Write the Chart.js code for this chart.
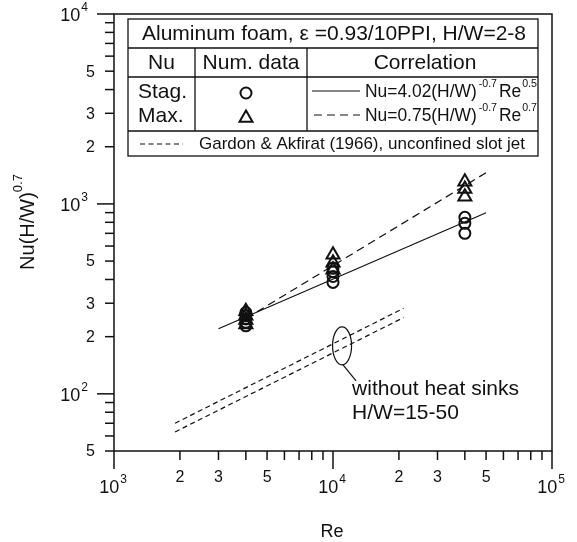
<!DOCTYPE html>
<html>
<head>
<meta charset="utf-8">
<script src="https://cdn.jsdelivr.net/npm/chart.js@4.4.1/dist/chart.umd.min.js"></script>
<style>
  body { margin: 0; background: #fff; }
</style>
</head>
<body>
<canvas id="nuChart" width="577" height="542"></canvas>
<script>
// numerical data, stagnation (circles) and maximum (triangles)
const stagRe = [4000, 4000, 4000, 4000, 4000, 10000, 10000, 10000, 10000, 40000, 40000, 40000];
const stagNu = [228, 238, 248, 258, 268, 386, 415, 440, 460, 700, 790, 850];
const maxRe = [4000, 4000, 4000, 4000, 10000, 10000, 10000, 40000, 40000, 40000];
const maxNu = [232, 245, 258, 272, 450, 490, 540, 1090, 1200, 1310];

// correlation lines (end points)
const stagFitRe = [3000, 50000];
const stagFitNu = [220, 899];
const maxFitRe = [4000, 50000];
const maxFitNu = [249, 1460];

// Gardon & Akfirat (1966), H/W=15-50
const gardonRe = [1900, 21000];
const gardonHighNu = [70, 282];
const gardonLowNu = [63, 252];

// axis ticks
const xDecades = [1000, 10000, 100000];
const xDecadeExp = ['3', '4', '5'];
const xMinor = [2000, 3000, 4000, 5000, 6000, 7000, 8000, 9000,
                20000, 30000, 40000, 50000, 60000, 70000, 80000, 90000];
const xMinorLabeled = [2000, 3000, 5000, 20000, 30000, 50000];
const xMinorText = ['2', '3', '5', '2', '3', '5'];

const yDecades = [100, 1000, 10000];
const yDecadeExp = ['2', '3', '4'];
const yMinor = [50, 60, 70, 80, 90, 200, 300, 400, 500, 600, 700, 800, 900,
                2000, 3000, 4000, 5000, 6000, 7000, 8000, 9000];
const yMinorLabeled = [50, 200, 300, 500, 2000, 3000, 5000];
const yMinorText = ['5', '2', '3', '5', '2', '3', '5'];

// note on the plot
const noteAt = [11000, 179];
const noteLines = ['without heat sinks', 'H/W=15-50'];

const FONT = '"Liberation Sans", Arial, sans-serif';
const INK = '#111';

function pts(xs, ys) {
    return xs.map((x, i) => ({ x: x, y: ys[i] }));
}

// text with superscripts, parts = [[text, isSup, gapAfter], ...]
function richWidth(ctx, parts, size, supSize) {
    let w = 0;
    parts.forEach(p => {
        ctx.font = (p[1] ? supSize : size) + 'px ' + FONT;
        w += ctx.measureText(p[0]).width + (p[2] || 0);
    });
    return w;
}
function drawRich(ctx, parts, x, y, size, supSize, rise) {
    ctx.textBaseline = 'middle';
    ctx.textAlign = 'left';
    parts.forEach(p => {
        ctx.font = (p[1] ? supSize : size) + 'px ' + FONT;
        ctx.fillText(p[0], x, p[1] ? y - rise : y);
        x += ctx.measureText(p[0]).width + (p[2] || 0);
    });
}
// same, squeezed sideways to fit a given width
function drawRichFit(ctx, parts, x, y, size, supSize, rise, maxW) {
    const w = richWidth(ctx, parts, size, supSize);
    const k = Math.min(1, maxW / w);
    ctx.save();
    ctx.translate(x, y);
    ctx.scale(k, 1);
    drawRich(ctx, parts, 0, 0, size, supSize, rise);
    ctx.restore();
}

function drawCircle(ctx, x, y) {
    ctx.beginPath();
    ctx.arc(x, y, 5.5, 0, Math.PI * 2);
    ctx.stroke();
}
function drawTriangle(ctx, x, y) {
    const r = 7.5;
    ctx.beginPath();
    ctx.moveTo(x, y - r);
    ctx.lineTo(x + r * 0.866, y + r * 0.5);
    ctx.lineTo(x - r * 0.866, y + r * 0.5);
    ctx.closePath();
    ctx.stroke();
}

const framePlugin = {
    id: 'framePlugin',
    afterDraw(chart) {
        const ctx = chart.ctx;
        const area = chart.chartArea;
        const xs = chart.scales.x;
        const ys = chart.scales.y;
        ctx.save();
        ctx.strokeStyle = INK;
        ctx.fillStyle = INK;

        // frame
        ctx.lineWidth = 1.5;
        ctx.strokeRect(area.left, area.top, area.right - area.left, area.bottom - area.top);

        // x ticks
        xDecades.forEach((v, i) => {
            const px = xs.getPixelForValue(v);
            ctx.beginPath();
            ctx.moveTo(px, area.bottom);
            ctx.lineTo(px, area.bottom + 18);
            ctx.stroke();
            const parts = [['10', false, 1], [xDecadeExp[i], true]];
            const w = richWidth(ctx, parts, 18, 12);
            drawRich(ctx, parts, px - w / 2 - 1, area.bottom + 37, 18, 12, 8);
        });
        xMinor.forEach(v => {
            const px = xs.getPixelForValue(v);
            ctx.beginPath();
            ctx.moveTo(px, area.bottom);
            ctx.lineTo(px, area.bottom + 9);
            ctx.stroke();
        });
        ctx.font = '16px ' + FONT;
        ctx.textAlign = 'center';
        ctx.textBaseline = 'middle';
        xMinorLabeled.forEach((v, i) => {
            ctx.fillText(xMinorText[i], xs.getPixelForValue(v), area.bottom + 27);
        });

        // y ticks
        yDecades.forEach((v, i) => {
            const py = ys.getPixelForValue(v);
            ctx.beginPath();
            ctx.moveTo(area.left, py);
            ctx.lineTo(area.left - 17, py);
            ctx.stroke();
            const parts = [['10', false, 1], [yDecadeExp[i], true]];
            const w = richWidth(ctx, parts, 18, 12);
            drawRich(ctx, parts, area.left - 26 - w, py + 2, 18, 12, 8);
        });
        yMinor.forEach(v => {
            const py = ys.getPixelForValue(v);
            ctx.beginPath();
            ctx.moveTo(area.left, py);
            ctx.lineTo(area.left - 9, py);
            ctx.stroke();
        });
        ctx.font = '16px ' + FONT;
        ctx.textAlign = 'right';
        ctx.textBaseline = 'middle';
        yMinorLabeled.forEach((v, i) => {
            ctx.fillText(yMinorText[i], area.left - 19, ys.getPixelForValue(v) + 1);
        });

        // axis titles
        ctx.font = '18px ' + FONT;
        ctx.textAlign = 'center';
        ctx.fillText('Re', (area.left + area.right) / 2 - 1, 532);
        ctx.save();
        ctx.translate(28, 222);
        ctx.rotate(-Math.PI / 2);
        const tParts = [['Nu(H/W)', false], ['0.7', true]];
        const tw = richWidth(ctx, tParts, 20, 13);
        drawRich(ctx, tParts, -tw / 2, 0, 20, 13, 10);
        ctx.restore();

        // legend table
        const L = 128, R = 538, T = 19, B = 156;
        const r1 = 48, r2 = 77, r3 = 131, c1 = 195, c2 = 307;
        ctx.lineWidth = 1.3;
        ctx.strokeRect(L, T, R - L, B - T);
        ctx.beginPath();
        [r1, r2, r3].forEach(y => { ctx.moveTo(L, y); ctx.lineTo(R, y); });
        ctx.moveTo(c1, r1); ctx.lineTo(c1, r3);
        ctx.moveTo(c2, r1); ctx.lineTo(c2, r3);
        ctx.stroke();

        ctx.font = '21px ' + FONT;
        ctx.textAlign = 'center';
        ctx.textBaseline = 'middle';
        ctx.fillText('Aluminum foam, \u03b5 =0.93/10PPI, H/W=2-8', 334, 34);
        ctx.fillText('Nu', (L + c1) / 2, 63);
        ctx.fillText('Num. data', (c1 + c2) / 2, 63);
        ctx.fillText('Correlation', 425, 63);
        ctx.textAlign = 'left';
        ctx.fillText('Stag.', 138, 92);
        ctx.fillText('Max.', 138, 116);

        ctx.lineWidth = 2;
        drawCircle(ctx, 246, 93);
        drawTriangle(ctx, 246, 118);

        ctx.lineWidth = 1.2;
        ctx.beginPath();
        ctx.moveTo(312, 91); ctx.lineTo(360, 91);
        ctx.stroke();
        ctx.setLineDash([8, 5]);
        ctx.beginPath();
        ctx.moveTo(314, 115); ctx.lineTo(360, 115);
        ctx.stroke();
        ctx.setLineDash([5, 3.5]);
        ctx.beginPath();
        ctx.moveTo(140, 144); ctx.lineTo(183, 144);
        ctx.stroke();
        ctx.setLineDash([]);

        drawRichFit(ctx, [['Nu=4.02(H/W)', false, 2], ['-0.7', true, 2], ['Re', false, 1], ['0.5', true]], 365, 92, 18, 11, 8, 172);
        drawRichFit(ctx, [['Nu=0.75(H/W)', false, 2], ['-0.7', true, 2], ['Re', false, 1], ['0.7', true]], 365, 116, 18, 11, 8, 172);
        ctx.font = '17px ' + FONT;
        ctx.textAlign = 'left';
        ctx.fillText('Gardon & Akfirat (1966), unconfined slot jet', 199, 144);

        // note: ellipse round the Gardon lines with a leader
        const ex = xs.getPixelForValue(noteAt[0]);
        const ey = ys.getPixelForValue(noteAt[1]);
        ctx.lineWidth = 1.2;
        ctx.beginPath();
        ctx.ellipse(ex, ey, 9.5, 19, 0, 0, Math.PI * 2);
        ctx.stroke();
        ctx.beginPath();
        ctx.moveTo(ex + 1, ey + 19);
        ctx.lineTo(ex + 14, ey + 35);
        ctx.stroke();
        ctx.font = '21px ' + FONT;
        ctx.textAlign = 'left';
        ctx.fillText(noteLines[0], ex + 10, ey + 43);
        ctx.fillText(noteLines[1], ex + 10, ey + 67);

        ctx.restore();
    }
};

const lineStyle = {
    showLine: true,
    pointRadius: 0,
    borderColor: INK,
    borderWidth: 1.2,
    fill: false,
    order: 2
};

new Chart(document.getElementById('nuChart').getContext('2d'), {
    type: 'scatter',
    data: {
        datasets: [
            Object.assign({ label: 'Stag. correlation', data: pts(stagFitRe, stagFitNu) }, lineStyle),
            Object.assign({ label: 'Max. correlation', data: pts(maxFitRe, maxFitNu), borderDash: [8, 5] }, lineStyle),
            Object.assign({ label: 'Gardon high', data: pts(gardonRe, gardonHighNu), borderDash: [5, 3.5] }, lineStyle),
            Object.assign({ label: 'Gardon low', data: pts(gardonRe, gardonLowNu), borderDash: [5, 3.5] }, lineStyle),
            {
                label: 'Stag.',
                data: pts(stagRe, stagNu),
                pointStyle: 'circle',
                pointRadius: 5.5,
                borderWidth: 2,
                borderColor: INK,
                backgroundColor: 'rgba(0,0,0,0)',
                order: 1
            },
            {
                label: 'Max.',
                data: pts(maxRe, maxNu),
                pointStyle: 'triangle',
                pointRadius: 7.5,
                borderWidth: 2,
                borderColor: INK,
                backgroundColor: 'rgba(0,0,0,0)',
                order: 1
            }
        ]
    },
    options: {
        responsive: false,
        animation: false,
        layout: {
            padding: { left: 114, right: 25, top: 14, bottom: 91 }
        },
        scales: {
            x: { type: 'logarithmic', min: 1000, max: 100000, display: false },
            y: { type: 'logarithmic', min: 50, max: 10000, display: false }
        },
        plugins: {
            legend: { display: false },
            tooltip: { enabled: false }
        }
    },
    plugins: [framePlugin]
});
</script>
</body>
</html>
